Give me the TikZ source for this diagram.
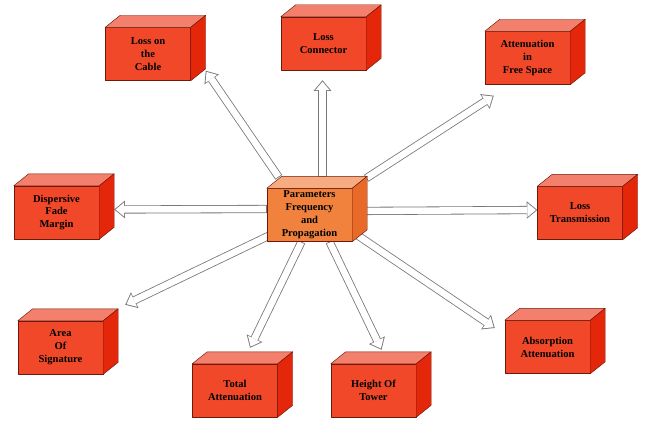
\documentclass[tikz,border=0pt]{standalone}
\usepackage{fontspec}
\setmainfont{Liberation Serif}
\usetikzlibrary{calc,arrows.meta}
\definecolor{redfront}{RGB}{242,72,42}
\definecolor{redtop}{RGB}{243,128,108}
\definecolor{redside}{RGB}{228,38,10}
\definecolor{orgfront}{RGB}{240,130,62}
\definecolor{orgtop}{RGB}{246,172,128}
\definecolor{orgside}{RGB}{232,106,40}
\definecolor{boxline}{RGB}{110,25,10}
\definecolor{arrgray}{RGB}{120,120,120}
\pgfdeclarelayer{background}
\pgfsetlayers{background,main}
\begin{document}
\begin{tikzpicture}[x=0.03cm,y=-0.03cm,line join=round,
    box/.style={draw=boxline,line width=0.4pt,fill=redfront,minimum width=2.55cm,minimum height=1.59cm,
      inner sep=0pt,align=center,font=\fontsize{9}{11}\selectfont\bfseries},
    face/.style={draw=boxline,line width=0.4pt},
    arrout/.style={draw=arrgray,line width=7pt,-{Triangle[length=9pt,width=15pt,line width=0pt]}},
    arrin/.style={draw=white,line width=5.6pt,shorten <=0.7pt,shorten >=1.2pt,
      -{Triangle[length=7.2pt,width=12pt,line width=0pt]}}]
  \useasboundingbox (0,0) rectangle (646,420);

  \node[box] (cable) at (148,54) {Loss on\\the\\Cable};
  \node[box] (conn) at (323.5,43.5) {Loss\\Connector};
  \node[box] (att) at (527.5,58) {Attenuation\\in\\Free Space};
  \node[box] (disp) at (56.5,212.5) {Dispersive\\Fade\\Margin};
  \node[box] (lt) at (580,213) {Loss\\Transmission};
  \node[box] (area) at (60.5,347.5) {Area\\Of\\Signature};
  \node[box] (tot) at (235,390.5) {Total\\Attenuation};
  \node[box] (tow) at (373.5,390.5) {Height Of\\Tower};
  \node[box] (abs) at (547.5,347) {Absorption\\Attenuation};
  \node[box,fill=orgfront] (ctr) at (309.5,215) {Parameters\\Frequency\\and\\Propagation};

  \foreach \n/\t/\s in {cable/redtop/redside,conn/redtop/redside,att/redtop/redside,
      disp/redtop/redside,lt/redtop/redside,area/redtop/redside,tot/redtop/redside,
      tow/redtop/redside,abs/redtop/redside,ctr/orgtop/orgside} {
    \draw[face,fill=\t] (\n.north west) -- ++(15,-12) -- ($(\n.north east)+(15,-12)$) -- (\n.north east) -- cycle;
    \draw[face,fill=\s] (\n.north east) -- ++(15,-12) -- ($(\n.south east)+(15,-12)$) -- (\n.south east) -- cycle;
  }

  \begin{pgfonlayer}{background}
    \foreach \sa/\sx/\sy/\t/\ta/\tx/\ty in {north west/12/-11/cable/south east/15/-10,
        north/13/-11/conn/south/-1/10,
        north east/14/-10/att/south west/9/11,
        west/0/-6/disp/east/15/-3,
        east/0/-4/lt/west/0/-3,
        south west/2/-6/area/north east/22/-16,
        south/-8/0/tot/north/15/-16,
        south/20/0/tow/north/8/-14,
        south east/3/-8/abs/west/-10/-19} {
      \draw[arrout] ($(ctr.\sa)+(\sx,\sy)$) -- ($(\t.\ta)+(\tx,\ty)$);
      \draw[arrin] ($(ctr.\sa)+(\sx,\sy)$) -- ($(\t.\ta)+(\tx,\ty)$);
    }
  \end{pgfonlayer}
\end{tikzpicture}
\end{document}
